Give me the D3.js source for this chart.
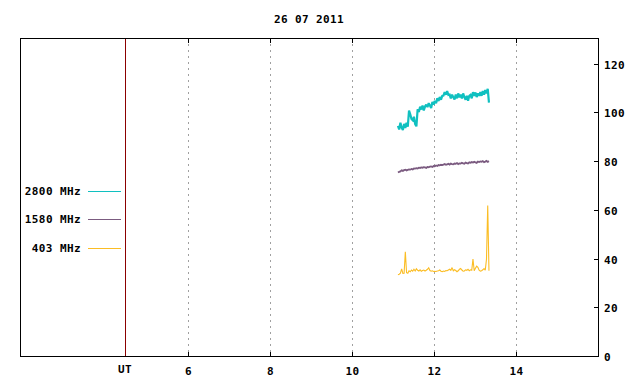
<!DOCTYPE html>
<html><head><meta charset="utf-8">
<script src="https://cdn.jsdelivr.net/npm/d3@7"></script>
<style>
html,body{margin:0;padding:0;background:#fff;}
text{font-family:"DejaVu Sans Mono","Liberation Mono",monospace;font-weight:bold;font-size:11px;letter-spacing:0.4px;fill:#000;}
</style></head>
<body><svg id="c" width="640" height="384"></svg>
<script>
const title = "26 07 2011";
const times = [11.12,11.15,11.18,11.21,11.24,11.27,11.30,11.33,11.36,11.39,
 11.42,11.45,11.48,11.51,11.54,11.57,11.60,11.63,11.66,11.69,
 11.72,11.75,11.78,11.81,11.84,11.87,11.90,11.93,11.96,11.99,
 12.02,12.05,12.08,12.11,12.14,12.17,12.20,12.23,12.26,12.29,
 12.32,12.35,12.38,12.41,12.44,12.47,12.50,12.53,12.56,12.59,
 12.62,12.65,12.68,12.71,12.74,12.77,12.80,12.83,12.86,12.89,
 12.92,12.95,12.98,13.01,13.04,13.07,13.10,13.13,13.16,13.19,
 13.22,13.25,13.28,13.31,13.34];
const s2800 = [94.5,93.0,95.8,93.8,92.8,95.3,93.6,95.8,94.2,100.8,
 99.2,97.3,96.8,98.2,95.2,94.3,101.3,100.2,102.3,101.2,
 102.8,100.8,102.4,103.2,102.2,103.8,102.8,101.8,104.3,103.2,
 104.8,103.8,105.8,104.7,106.3,105.2,106.8,106.9,108.3,107.3,
 108.7,107.2,107.3,105.8,107.3,106.2,105.3,107.3,105.8,107.8,
 106.2,107.3,105.7,107.8,106.3,105.2,106.8,104.8,106.8,107.2,
 105.8,108.3,106.8,108.2,106.3,107.8,106.8,108.3,106.8,108.8,
 107.3,109.2,107.8,109.7,104.0];
const s1580 = [75.3,75.6,75.8,76.2,76.0,76.3,76.5,76.2,76.4,76.6,
 76.5,76.8,76.6,77.0,76.9,77.1,77.0,77.3,77.2,77.4,
 77.3,77.5,77.4,77.2,77.6,77.5,77.7,77.8,77.6,78.0,
 77.9,78.2,78.0,78.4,78.3,78.5,78.4,78.6,78.8,78.5,
 78.7,78.9,78.6,79.0,78.8,78.7,79.0,78.9,79.2,78.8,
 79.1,79.0,79.3,79.1,78.9,79.4,79.2,79.0,79.5,79.3,
 79.6,79.4,79.7,79.5,79.3,79.8,79.6,79.9,79.7,80.0,
 79.6,79.8,80.1,79.7,80.0];
const s403 = [33.4,33.6,34.0,35.8,33.9,34.0,42.8,34.2,34.0,35.0,
 34.6,35.3,34.8,35.6,34.9,35.8,35.2,34.9,35.4,34.8,
 35.1,35.3,34.9,35.2,35.6,36.2,35.1,34.8,35.0,34.7,
 34.8,34.7,34.9,35.0,35.3,34.8,34.6,34.9,34.7,35.1,
 35.0,35.3,35.6,35.2,36.3,35.0,35.4,35.1,34.6,35.0,
 35.6,35.9,35.3,34.8,34.9,35.4,35.2,35.6,35.0,35.4,
 35.2,39.8,35.0,36.0,36.9,36.4,35.2,34.8,35.0,35.4,
 35.9,35.2,39.8,61.8,35.0];
const seriesNames = ["2800 MHz","1580 MHz","403 MHz"];
const seriesColors = ["#10c0c0","#7b5b80","#fbbd24"];
const seriesWidths = [2.2,1.8,1.1];
const xTickValues = [6,8,10,12,14];
const utPosition = 4.46;
const utLabel = "UT";
const yTickValues = [0,20,40,60,80,100,120];

const svg = d3.select("#c");
const x = d3.scaleLinear().domain([1.9,16.0]).range([20,598]);
const y = d3.scaleLinear().domain([0,120]).range([356,63.7]);
const pTop = 38, pBottom = 356, pLeft = 20, pRight = 598;

// title
svg.append("text").attr("x",(pLeft+pRight)/2).attr("y",23).attr("text-anchor","middle").text(title);

// grid
svg.selectAll(".grid").data(xTickValues).enter().append("line")
  .attr("x1",d=>Math.round(x(d))+0.5).attr("x2",d=>Math.round(x(d))+0.5)
  .attr("y1",pTop).attr("y2",pBottom)
  .attr("stroke","#a0a0a0").attr("stroke-dasharray","2,4");

// UT line
svg.append("line").attr("x1",Math.round(x(utPosition))+0.5).attr("x2",Math.round(x(utPosition))+0.5)
  .attr("y1",pTop).attr("y2",pBottom).attr("stroke","#8b0000");

// border
svg.append("rect").attr("x",pLeft+0.5).attr("y",pTop+0.5).attr("width",pRight-pLeft).attr("height",pBottom-pTop)
  .attr("fill","none").attr("stroke","#000");

// x ticks (bottom and top, inward)
xTickValues.forEach(d=>{
  const px = Math.round(x(d))+0.5;
  svg.append("line").attr("x1",px).attr("x2",px).attr("y1",pBottom+0.5).attr("y2",pBottom-4).attr("stroke","#000");
  svg.append("line").attr("x1",px).attr("x2",px).attr("y1",pTop+0.5).attr("y2",pTop+5).attr("stroke","#000");
  svg.append("text").attr("x",px).attr("y",375).attr("text-anchor","middle").text(d);
});
svg.append("text").attr("x",Math.round(x(utPosition))).attr("y",373).attr("text-anchor","middle").text(utLabel);

// y ticks on right
yTickValues.forEach(d=>{
  const py = Math.round(y(d))+0.5;
  if (d>0) svg.append("line").attr("x1",pRight+0.5).attr("x2",pRight-4).attr("y1",py).attr("y2",py).attr("stroke","#000");
  svg.append("text").attr("x",604).attr("y",py+4).attr("text-anchor","start").text(d);
});

// series
const allSeries = [s2800,s1580,s403];
const line = d3.line().x((d,i)=>x(times[i])).y(d=>y(d));
allSeries.forEach((s,k)=>{
  svg.append("path").datum(s).attr("d",line).attr("fill","none")
    .attr("stroke",seriesColors[k]).attr("stroke-width",seriesWidths[k])
    .attr("stroke-linejoin","miter").attr("stroke-miterlimit",2);
});

// legend
const legendY = [191,219,248];
seriesNames.forEach((n,k)=>{
  svg.append("text").attr("x",81).attr("y",legendY[k]+4).attr("text-anchor","end").text(n);
  svg.append("line").attr("x1",88).attr("x2",121).attr("y1",legendY[k]+0.5).attr("y2",legendY[k]+0.5)
    .attr("stroke",seriesColors[k]);
});
</script></body></html>
